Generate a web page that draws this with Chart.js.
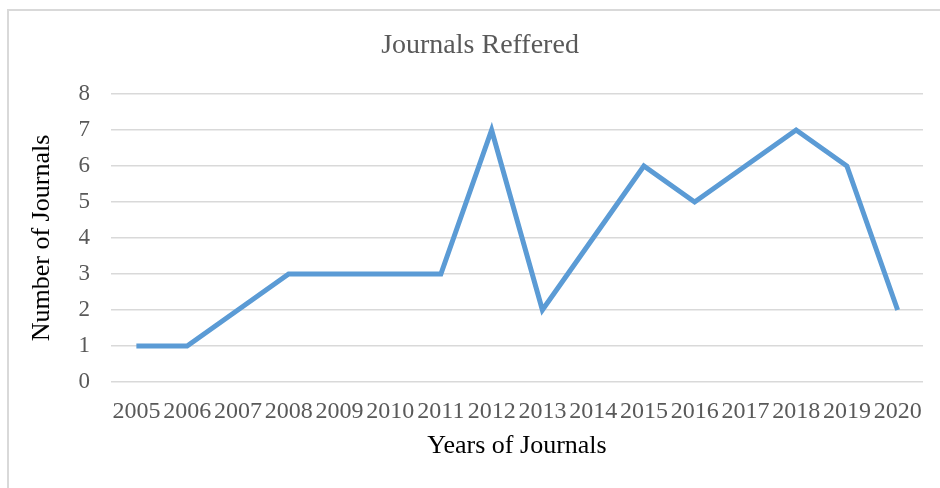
<!DOCTYPE html>
<html>
<head>
<meta charset="utf-8">
<script src="https://cdn.jsdelivr.net/npm/chart.js@4/dist/chart.umd.min.js"></script>
<style>
    body { margin: 0; background: #fff; overflow: hidden; }
    #wrap { position: relative; width: 940px; height: 488px; overflow: hidden; }
    #frame { position: absolute; left: 7px; top: 9px; width: 1000px; height: 1000px; border: 2px solid #d9d9d9; }
    #chart { position: absolute; left: 0; top: 0; }
</style>
</head>
<body>
<div id="wrap">
    <div id="frame"></div>
    <canvas id="chart" width="940" height="488"></canvas>
</div>
<script>
const years = ['2005', '2006', '2007', '2008', '2009', '2010', '2011', '2012',
    '2013', '2014', '2015', '2016', '2017', '2018', '2019', '2020'];
const journals = [1, 1, 2, 3, 3, 3, 3, 7, 2, 4, 6, 5, 6, 7, 6, 2];

const serif = "'Liberation Serif', 'Times New Roman', serif";

const ctx = document.getElementById('chart').getContext('2d');

new Chart(ctx, {
    type: 'line',
    data: {
        labels: years,
        datasets: [{
            label: 'Journals',
            data: journals,
            borderColor: '#5b9bd5',
            borderWidth: 5,
            pointRadius: 0,
            tension: 0,
            fill: false
        }]
    },
    options: {
        responsive: false,
        animation: false,
        layout: {
            padding: { left: 37, right: 17, top: 10, bottom: 0 }
        },
        plugins: {
            legend: { display: false },
            tooltip: { enabled: false },
            title: {
                display: true,
                text: 'Journals Reffered',
                color: '#595959',
                font: { family: serif, size: 28, weight: 'normal', lineHeight: 1.2 },
                padding: { top: 19, bottom: 31.4 }
            }
        },
        scales: {
            x: {
                offset: true,
                grid: { display: false, drawTicks: false },
                border: { display: false },
                ticks: {
                    color: '#595959',
                    font: { family: serif, size: 24 },
                    padding: 15,
                    maxRotation: 0,
                    autoSkip: false
                },
                title: {
                    display: true,
                    text: 'Years of Journals',
                    color: '#000',
                    font: { family: serif, size: 26, lineHeight: 1.2 },
                    padding: { top: 0, bottom: 26.4 }
                },
                afterFit: scale => { scale.height = 106; }
            },
            y: {
                min: 0,
                max: 8,
                grid: { color: '#d9d9d9', lineWidth: 1.5, drawTicks: false },
                border: { display: false },
                ticks: {
                    stepSize: 1,
                    color: '#595959',
                    font: { family: serif, size: 23 },
                    padding: 21
                },
                title: {
                    display: true,
                    text: 'Number of Journals',
                    color: '#000',
                    font: { family: serif, size: 26, lineHeight: 1.2 },
                    padding: { top: -10.6, bottom: 0 }
                },
                afterFit: scale => { scale.width = 74; }
            }
        }
    }
});
</script>
</body>
</html>
